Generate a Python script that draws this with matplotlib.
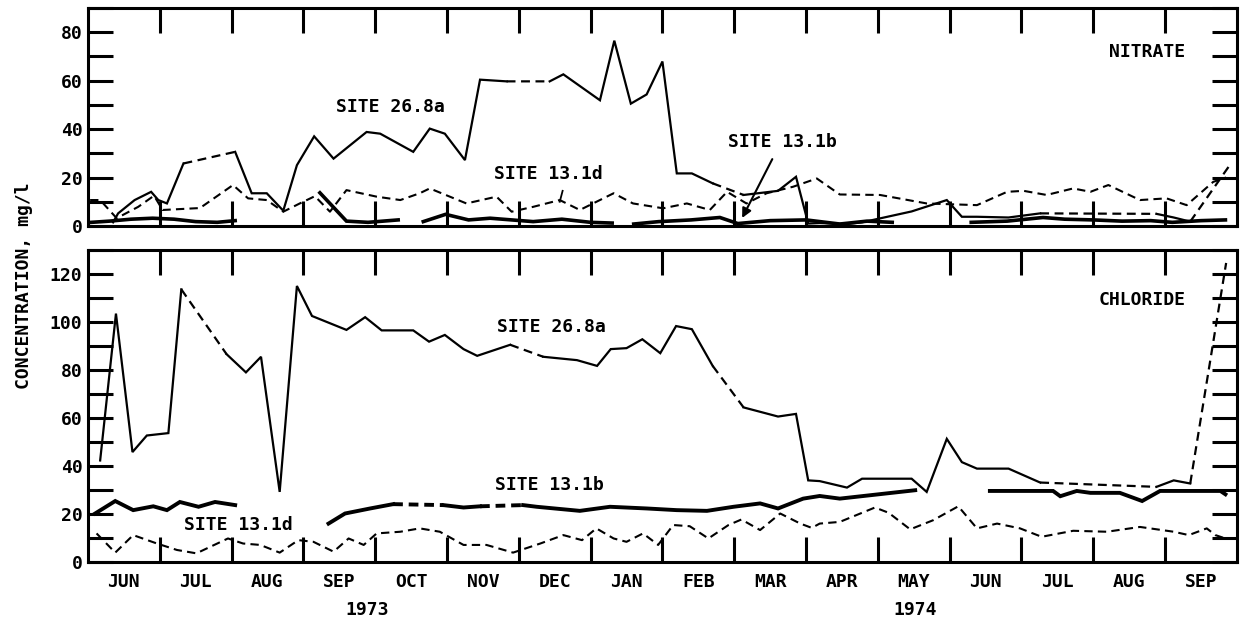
"""
Nitrate and chloride concentration at three sites, June 1973 - September 1974.
x axis is in months counted from 1 June 1973.
"""

import numpy as np
import matplotlib
matplotlib.use('Agg')
import matplotlib.pyplot as plt
from matplotlib.ticker import MultipleLocator, NullFormatter

nan = np.nan

months = ['JUN', 'JUL', 'AUG', 'SEP', 'OCT', 'NOV', 'DEC', 'JAN',
          'FEB', 'MAR', 'APR', 'MAY', 'JUN', 'JUL', 'AUG', 'SEP']
years = ['1973', '1974']
year_pos = [3.89, 11.52]

# ---- NITRATE ----
# site 26.8a, measured (solid) and bridged (dashed) parts
no3_268a_x = [0.35, 0.42, 0.65, 0.88, 0.98, 1.10, 1.33, nan,
              2.05, 2.28, 2.49, 2.72, 2.91, 3.15, 3.42, 3.88, 4.07, 4.53, 4.76, 4.97, 5.25, 5.46, 5.83, nan,
              6.43, 6.62, 7.13, 7.33, 7.56, 7.78, 8.00, 8.20, 8.41, 8.70, nan,
              9.13, 9.61, 9.86, 10.03, 10.19, 10.57, 10.78, 11.47, 11.96, 12.17, 12.38, 12.82, 13.26, nan,
              14.88, 15.12, 15.35]
no3_268a_y = [1.5, 5.2, 10.7, 14.1, 10.7, 9.3, 25.8, nan,
              30.6, 13.5, 13.5, 6.3, 25.1, 37.0, 27.8, 38.8, 38.1, 30.6, 40.2, 38.1, 27.2, 60.4, 59.7, nan,
              59.7, 62.6, 51.9, 76.5, 50.5, 54.3, 67.9, 21.7, 21.7, 17.6, nan,
              12.8, 14.5, 20.3, 1.0, 1.2, 0.8, 1.5, 6.0, 10.7, 3.8, 3.8, 3.5, 5.2, nan,
              5.0, 3.5, 1.8]
no3_268a_dx = [1.33, 2.05, nan, 5.83, 6.43, nan, 8.70, 9.13, nan, 13.26, 14.88, nan, 15.35, 15.90]
no3_268a_dy = [25.8, 30.6, nan, 59.7, 59.7, nan, 17.6, 12.8, nan, 5.2, 5.0, nan, 1.8, 25.1]

# site 13.1b
no3_131b_x = [0.05, 0.3, 0.6, 0.9, 1.2, 1.5, 1.8, 2.05, nan,
              3.23, 3.60, 3.9, 4.32, nan,
              4.67, 4.98, 5.3, 5.6, 5.9, 6.2, 6.6, 7.0, 7.3, nan,
              7.6, 7.95, 8.4, 8.8, 9.05, 9.5, 10.0, 10.47, 10.85, 11.2, nan,
              12.3, 12.8, 13.3, 13.6, 14.0, 14.4, 14.8, 15.1, 15.5, 15.84]
no3_131b_y = [1.5, 2.0, 2.8, 3.2, 2.8, 1.8, 1.5, 2.2, nan,
              13.7, 2.0, 1.5, 2.5, nan,
              1.8, 4.8, 2.5, 3.2, 2.5, 1.8, 2.8, 1.5, 1.2, nan,
              0.8, 1.8, 2.5, 3.5, 1.0, 2.2, 2.5, 0.8, 2.0, 1.5, nan,
              1.5, 2.0, 3.5, 2.8, 2.5, 2.0, 2.2, 1.5, 2.2, 2.5]

# site 13.1d
no3_131d_x = [0.03, 0.17, 0.40, 0.70, 0.92, 1.04, 1.56, 2.02, 2.23, 2.49, 2.72, 2.95, 3.16, 3.37, 3.60,
              4.02, 4.35, 4.62, 4.76, 5.27, 5.69, 5.90, 6.20, 6.57, 6.85, 7.32, 7.59, 8.01, 8.34, 8.66,
              8.90, 9.17, 9.45, 9.82, 10.15, 10.47, 11.03, 11.68, 12.38, 12.80, 13.03, 13.35, 13.72,
              13.96, 14.21, 14.65, 15.02, 15.30, 15.67, 15.85]
no3_131d_y = [10.7, 10.7, 3.2, 7.9, 12.5, 6.6, 7.4, 16.9, 11.4, 10.7, 5.9, 9.3, 12.3, 5.9, 14.8,
              12.1, 10.7, 13.5, 15.5, 9.3, 12.1, 5.9, 7.9, 10.7, 6.6, 13.5, 9.3, 7.3, 9.3, 6.6,
              14.1, 9.3, 13.5, 16.2, 19.6, 13.0, 12.8, 9.3, 8.6, 14.1, 14.5, 12.8, 15.5,
              14.1, 16.9, 10.7, 11.4, 8.6, 18.2, 20.0]

# ---- CHLORIDE ----
cl_268a_x = [0.17, 0.39, 0.62, 0.82, 1.12, 1.30, nan,
             1.93, 2.20, 2.41, 2.67, 2.91, 3.12, 3.60, 3.86, 4.09, 4.53, 4.75, 4.97, 5.23, 5.42, 5.88, nan,
             6.34, 6.81, 7.09, 7.28, 7.50, 7.72, 7.97, 8.19, 8.41, 8.70, nan,
             9.13, 9.61, 9.86, 10.03, 10.19, 10.57, 10.78, 11.47, 11.68, 11.96, 12.17, 12.38, 12.82, 13.26, nan,
             14.88, 15.12, 15.35]
cl_268a_y = [42.3, 103.5, 45.8, 52.7, 53.7, 113.6, nan,
             86.6, 79.0, 85.5, 29.2, 115.0, 102.5, 96.7, 102.0, 96.5, 96.5, 91.8, 94.6, 88.7, 85.9, 90.5, nan,
             85.5, 84.1, 81.7, 88.7, 89.1, 92.8, 87.0, 98.3, 97.0, 81.7, nan,
             64.4, 60.6, 61.7, 34.0, 33.7, 31.0, 34.7, 34.7, 29.2, 51.3, 41.6, 38.9, 38.9, 33.1, nan,
             31.3, 34.0, 32.7]
cl_268a_dx = [1.30, 1.93, nan, 5.88, 6.34, nan, 8.70, 9.13, nan, 13.26, 14.88, nan, 15.35, 15.85]
cl_268a_dy = [113.6, 86.6, nan, 90.5, 85.5, nan, 81.7, 64.4, nan, 33.1, 31.3, nan, 32.7, 124.6]

cl_131b_x = [0.10, 0.38, 0.63, 0.91, 1.10, 1.28, 1.54, 1.77, 2.05, nan,
             3.35, 3.58, 3.93, 4.25, nan,
             4.95, 5.23, 5.46, nan,
             6.06, 6.25, 6.85, 7.27, 7.78, 8.20, 8.62, 8.99, 9.36, 9.61, 9.96, 10.19, 10.47, 10.89, 11.52, nan,
             12.56, 13.44, 13.54, 13.77, 13.96, 14.37, 14.68, 14.93, 15.77, 15.84]
cl_131b_y = [20.2, 25.4, 21.6, 23.2, 21.6, 25.0, 23.0, 25.0, 23.7, nan,
             16.0, 20.2, 22.3, 24.1, nan,
             23.7, 22.7, 23.2, nan,
             23.7, 23.0, 21.3, 23.0, 22.3, 21.6, 21.3, 23.0, 24.4, 22.3, 26.4, 27.5, 26.4, 27.8, 29.9, nan,
             29.6, 29.6, 27.4, 29.6, 28.8, 28.8, 25.4, 29.6, 29.6, 28.2]
cl_131b_dx = [4.25, 4.95, nan, 5.46, 6.06]
cl_131b_dy = [24.1, 23.7, nan, 23.2, 23.7]

cl_131d_x = [0.12, 0.38, 0.63, 0.96, 1.24, 1.51, 1.95, 2.16, 2.40, 2.67, 2.93, 3.14, 3.42, 3.63, 3.84,
             4.02, 4.35, 4.62, 4.90, 5.23, 5.55, 5.92, 6.30, 6.62, 6.88, 7.08, 7.32, 7.50, 7.73, 7.94,
             8.15, 8.38, 8.64, 8.92, 9.10, 9.36, 9.64, 9.92, 10.08, 10.19, 10.47, 10.96, 11.15, 11.45,
             11.77, 12.12, 12.38, 12.66, 12.98, 13.28, 13.72, 14.19, 14.65, 15.12, 15.33, 15.58, 15.70, 15.84]
cl_131d_y = [11.9, 3.9, 11.2, 7.7, 5.0, 3.6, 9.8, 7.7, 7.1, 3.9, 9.1, 8.4, 4.3, 9.8, 7.1,
             11.9, 12.6, 14.0, 12.6, 7.1, 7.1, 3.9, 7.7, 11.2, 9.1, 14.0, 9.8, 8.4, 11.9, 7.1,
             15.4, 14.9, 9.8, 15.4, 17.7, 13.3, 20.2, 16.0, 14.2, 16.0, 16.7, 22.7, 20.5, 13.6,
             17.4, 23.2, 14.0, 16.0, 14.0, 10.5, 13.0, 12.6, 14.6, 12.6, 11.2, 14.0, 11.2, 9.8]

FONT = dict(family='DejaVu Sans Mono', fontweight='bold', fontsize=13)
plt.rcParams['font.family'] = 'DejaVu Sans Mono'
plt.rcParams['font.weight'] = 'bold'

fig = plt.figure(figsize=(12.44, 6.27), dpi=100)
ax1 = fig.add_axes([0.0707, 0.6396, 0.9236, 0.3477])
ax2 = fig.add_axes([0.0707, 0.1037, 0.9236, 0.4976])


def style_axis(ax, ymax, ylabel_step):
    ax.set_xlim(0, 16)
    ax.set_ylim(0, ymax)
    ax.xaxis.set_major_locator(MultipleLocator(1))
    ax.xaxis.set_major_formatter(NullFormatter())
    ax.set_xticks(np.arange(16) + 0.5, minor=True)
    ax.yaxis.set_major_locator(MultipleLocator(ylabel_step))
    ax.yaxis.set_minor_locator(MultipleLocator(10))
    ax.tick_params(which='both', direction='in', top=True, right=True,
                   length=18, width=2.2, labelsize=13)
    ax.tick_params(axis='x', which='minor', length=0, pad=8)
    ax.tick_params(axis='y', which='major', pad=4)
    for s in ax.spines.values():
        s.set_linewidth(2.2)


def draw(ax, x, y, lw, dashed=False, thick_dash=False):
    if thick_dash:
        ax.plot(x, y, color='black', lw=lw, dashes=(2.5, 1.5))
    elif dashed:
        ax.plot(x, y, color='black', lw=lw, dashes=(4, 2.5))
    else:
        ax.plot(x, y, color='black', lw=lw, solid_joinstyle='miter')


# Nitrate panel
style_axis(ax1, 90, 20)
ax1.set_xticks(np.arange(1, 16))
ax1.tick_params(axis='x', which='minor', labelbottom=False)
draw(ax1, no3_131d_x, no3_131d_y, 1.5, dashed=True)
draw(ax1, no3_131b_x, no3_131b_y, 2.6)
draw(ax1, no3_268a_x, no3_268a_y, 1.6)
draw(ax1, no3_268a_dx, no3_268a_dy, 1.6, dashed=True)
ax1.text(4.21, 49, 'SITE 26.8a', ha='center', va='center', **FONT)
ax1.text(6.41, 21.4, 'SITE 13.1d', ha='center', va='center', **FONT)
ax1.plot([6.61, 6.57], [14.5, 10.0], color='black', lw=1.3)
ax1.text(9.67, 34.6, 'SITE 13.1b', ha='center', va='center', **FONT)
ax1.annotate('', xy=(9.11, 3.3), xytext=(9.53, 27.6),
             arrowprops=dict(arrowstyle='-|>', color='black', lw=1.5,
                             mutation_scale=14, shrinkA=0, shrinkB=0))
ax1.text(15.28, 72, 'NITRATE', ha='right', va='center', **FONT)

# Chloride panel
style_axis(ax2, 130, 20)
ax2.set_xticks(np.arange(1, 16))
ax2.set_xticklabels(months, minor=True, fontsize=13, fontweight='bold')
draw(ax2, cl_131d_x, cl_131d_y, 1.5, dashed=True)
draw(ax2, cl_131b_x, cl_131b_y, 2.8)
draw(ax2, cl_131b_dx, cl_131b_dy, 2.8, thick_dash=True)
draw(ax2, cl_268a_x, cl_268a_y, 1.6)
draw(ax2, cl_268a_dx, cl_268a_dy, 1.6, dashed=True)
ax2.text(6.46, 97.9, 'SITE 26.8a', ha='center', va='center', **FONT)
ax2.text(6.42, 32.0, 'SITE 13.1b', ha='center', va='center', **FONT)
ax2.text(2.10, 15.4, 'SITE 13.1d', ha='center', va='center', **FONT)
ax2.text(15.28, 109.3, 'CHLORIDE', ha='right', va='center', **FONT)

trans = ax2.get_xaxis_transform()
for pos, yr in zip(year_pos, years):
    ax2.text(pos, -0.154, yr, transform=trans, ha='center', va='center', **FONT)

fig.text(0.019, 0.545, 'CONCENTRATION, mg/l', rotation=90, ha='center', va='center', **FONT)

fig.savefig('out.png', dpi=100, facecolor='white')
